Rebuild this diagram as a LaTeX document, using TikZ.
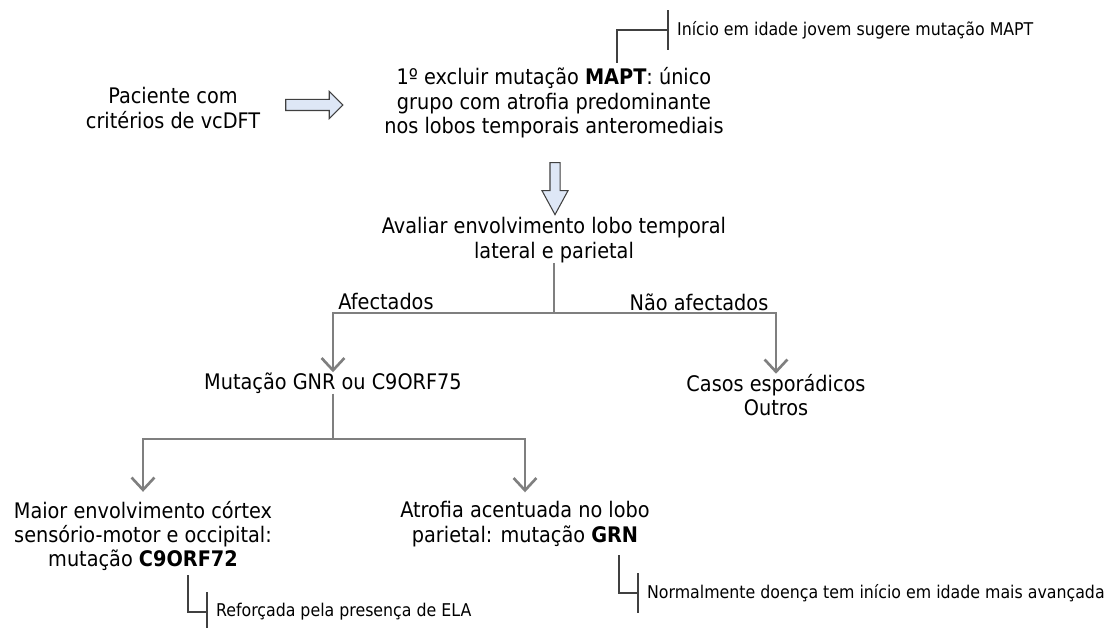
\documentclass[tikz,border=0pt]{standalone}
\usepackage{fontspec}
\setmainfont{DejaVu Sans Condensed}
\usetikzlibrary{shapes.arrows,arrows.meta}
\definecolor{treegray}{RGB}{127,127,127}
\definecolor{blkfill}{RGB}{222,231,246}
\definecolor{blkline}{RGB}{64,64,64}
\begin{document}
\begin{tikzpicture}[x=0.02cm,y=-0.02cm,
txt/.style={align=center,inner sep=0pt,font=\fontsize{12.2}{13.9}\selectfont},
note/.style={anchor=west,inner xsep=5pt,inner ysep=0pt,minimum height=22pt,font=\fontsize{10}{12}\selectfont},
blk/.style={single arrow,draw=blkline,fill=blkfill,line width=0.6pt},
branch/.style={draw=treegray,line width=1.5pt},
pointy/.style={-{Straight Barb[length=7pt,width=13pt]}},
noteline/.style={draw=black!75,line width=0.6pt}]
\useasboundingbox (0,0) rectangle (1105,628);
% text boxes
\node[txt](paciente) at (173,108){Paciente com\\critérios de vcDFT};
\node[txt](mapt) at (554,103){1º excluir mutação \textbf{MAPT}: único\\grupo com atrofia predominante\\nos lobos temporais anteromediais};
\node[txt](aval) at (554,240){Avaliar envolvimento lobo temporal\\lateral e parietal};
\node[txt](afect) at (386,302){Afectados};
\node[txt](naoafect) at (699,302){Não afectados};
\node[txt](gnr) at (333,383){Mutação GNR ou C9ORF75};
\node[txt](casos) at (776,395){Casos esporádicos\\Outros};
\node[txt](c9) at (143,536){Maior envolvimento córtex\\sensório-motor e occipital:\\mutação \textbf{C9ORF72}};
\node[txt](grn) at (525,524){Atrofia acentuada no lobo\\parietal: mutação \textbf{GRN}};
% block arrows
\node[blk,inner sep=0.1cm,minimum height=1.14cm,single arrow head extend=0.16cm](arrA) at (311.5,105){};
\node[blk,inner sep=0.09cm,minimum height=1.04cm,single arrow head extend=0.16cm,single arrow tip angle=57,shape border rotate=270](arrB) at (555,184){};
% tree
\coordinate (splitA) at (554,313);
\coordinate (splitB) at (333,439);
\draw[branch](aval.south)--(splitA);
\draw[branch,pointy](splitA)-|(gnr.north);
\draw[branch,pointy](splitA)-|(casos.north);
\draw[branch](gnr.south)--(splitB);
\draw[branch,pointy,shorten >=5pt](splitB)-|(c9.north);
\draw[branch,pointy,shorten >=5pt](splitB)-|(grn.north);
% notes
\node[note](maptnote) at (668,30){Início em idade jovem sugere mutação MAPT};
\node[note](c9note) at (207,612){Reforçada pela presença de ELA};
\node[note](grnnote) at (638,593){Normalmente doença tem início em idade mais avançada};
\coordinate (maptpin) at (617,63);
\coordinate (c9pin) at (188,575);
\coordinate (grnpin) at (619,555);
\draw[noteline](maptpin)|-(maptnote.west);
\draw[noteline](maptnote.north west)--(maptnote.south west);
\draw[noteline](c9pin)|-(c9note.west);
\draw[noteline](c9note.north west)--(c9note.south west);
\draw[noteline](grnpin)|-(grnnote.west);
\draw[noteline](grnnote.north west)--(grnnote.south west);
\end{tikzpicture}
\end{document}
